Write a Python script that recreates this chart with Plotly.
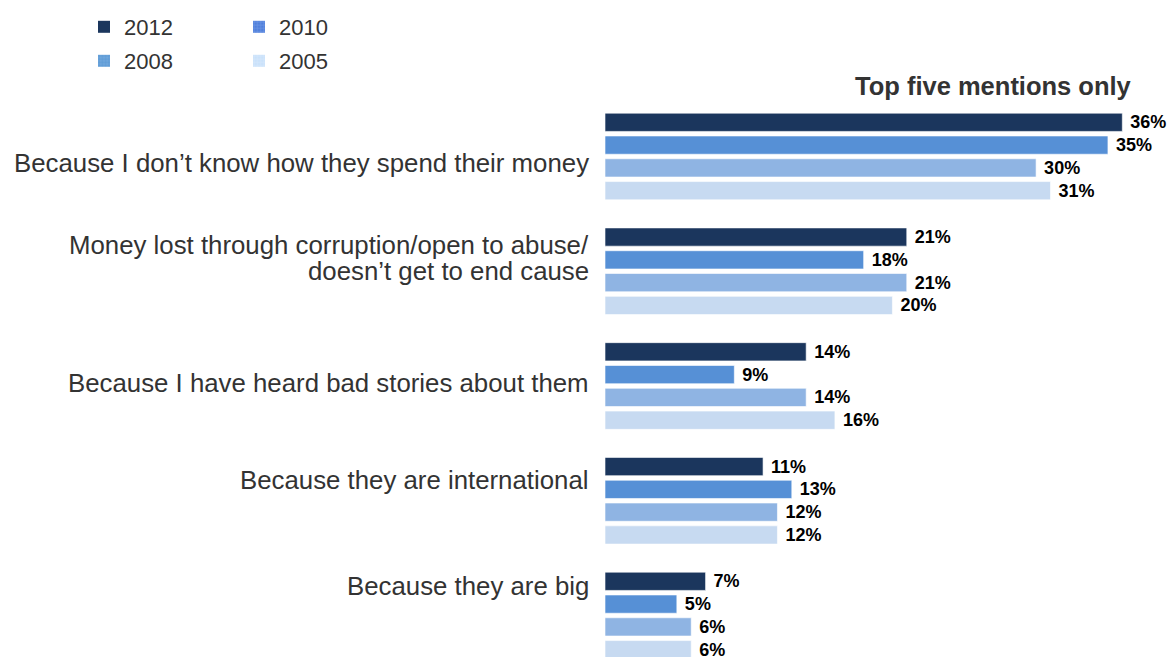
import plotly.graph_objects as go

# Reasons given, top five mentions
categories = [
    "Because I don\u2019t know how they spend their money",
    "Money lost through corruption/open to abuse/<br>doesn\u2019t get to end cause",
    "Because I have heard bad stories about them",
    "Because they are international",
    "Because they are big",
]
years = ["2012", "2010", "2008", "2005"]
values_2012 = [36, 21, 14, 11, 7]
values_2010 = [35, 18, 9, 13, 5]
values_2008 = [30, 21, 14, 12, 6]
values_2005 = [31, 20, 16, 12, 6]

series = [values_2012, values_2010, values_2008, values_2005]
colors = ["#1B365D", "#5690D6", "#8FB4E3", "#C7DAF1"]
legend_colors = ["#1B365D", "#4F7FDB", "#6FA6DC", "#C9E1FA"]
legend_patterns = ["", "+", "+", "+"]
legend_pattern_fg = ["", "#9DBAF2", "#3E86C9", "#EAF3FD"]
# vertical nudge (px, downward) of each category label relative to its bar group
label_shift = [6.5, -13.5, -3, -21, -30]
line_spacing = 25.5

FONT = "Liberation Sans, Arial, Helvetica, sans-serif"
W, H = 1174, 657
fig = go.Figure()

for yr, vals, col in zip(years, series, colors):
    fig.add_trace(go.Bar(
        y=list(range(len(categories))),
        x=vals,
        orientation="h",
        name=yr,
        marker=dict(color=col, line=dict(color="rgba(255,255,255,0.6)", width=1)),
        text=[f"{v}%" for v in vals],
        textposition="outside",
        constraintext="none",
        textfont=dict(family=FONT, size=18, color="#000000"),
        texttemplate="\u00a0<b>%{text}</b>",
        cliponaxis=False,
        showlegend=False,
        hoverinfo="skip",
    ))

# legend swatches (two rows of two), kept on their own hidden axes
for i, (yr, col) in enumerate(zip(years, legend_colors)):
    marker = dict(color=col, line=dict(width=0))
    if legend_patterns[i]:
        marker["pattern"] = dict(shape=legend_patterns[i], fgcolor=legend_pattern_fg[i],
                                 size=4, solidity=0.3)
    fig.add_trace(go.Bar(
        x=[None], y=[None], orientation="h", name=yr,
        marker=marker,
        xaxis="x2", yaxis="y2",
        legend="legend" if i < 2 else "legend2",
        showlegend=True,
        hoverinfo="skip",
    ))

px_per_cat = 114.75
top_center = 156.5
y_top = -top_center / px_per_cat
y_bot = y_top + H / px_per_cat

annotations = []
for i, cat in enumerate(categories):
    lines = cat.split("<br>")
    n = len(lines)
    for k, line in enumerate(lines):
        offset = label_shift[i] + (k - (n - 1) / 2) * line_spacing
        annotations.append(dict(
            x=591 / W, xref="paper", xanchor="right",
            y=i, yref="y", yanchor="middle", yshift=-offset,
            text=line, showarrow=False, align="right",
            font=dict(family=FONT, size=25.8, color="#333333"),
        ))
annotations.append(dict(
    x=1134 / W, xref="paper", xanchor="right",
    y=1 - 86 / H, yref="paper", yanchor="middle",
    text="<b>Top five mentions only</b>", showarrow=False,
    font=dict(family=FONT, size=25.5, color="#333333"),
))

legend_common = dict(
    orientation="h", xanchor="left", yanchor="middle",
    font=dict(family=FONT, size=22, color="#333333"),
    entrywidth=110, entrywidthmode="pixels", itemwidth=30,
    bgcolor="rgba(0,0,0,0)", tracegroupgap=0,
)

fig.update_layout(
    width=W, height=H,
    margin=dict(l=0, r=0, t=0, b=0),
    paper_bgcolor="white", plot_bgcolor="white",
    barmode="group", bargap=0.205, bargroupgap=0.2,
    xaxis=dict(domain=[605 / W, 1], range=[0, 569 / 14.37], visible=False, fixedrange=True),
    yaxis=dict(range=[y_bot, y_top], visible=False, fixedrange=True),
    xaxis2=dict(domain=[0, 0.01], visible=False, anchor="y2"),
    yaxis2=dict(domain=[0, 0.01], visible=False, anchor="x2"),
    legend=dict(x=84 / W, y=1 - 27 / H, **legend_common),
    legend2=dict(x=84 / W, y=1 - 61 / H, **legend_common),
    annotations=annotations,
    showlegend=True,
)

fig.write_html("out.html")
